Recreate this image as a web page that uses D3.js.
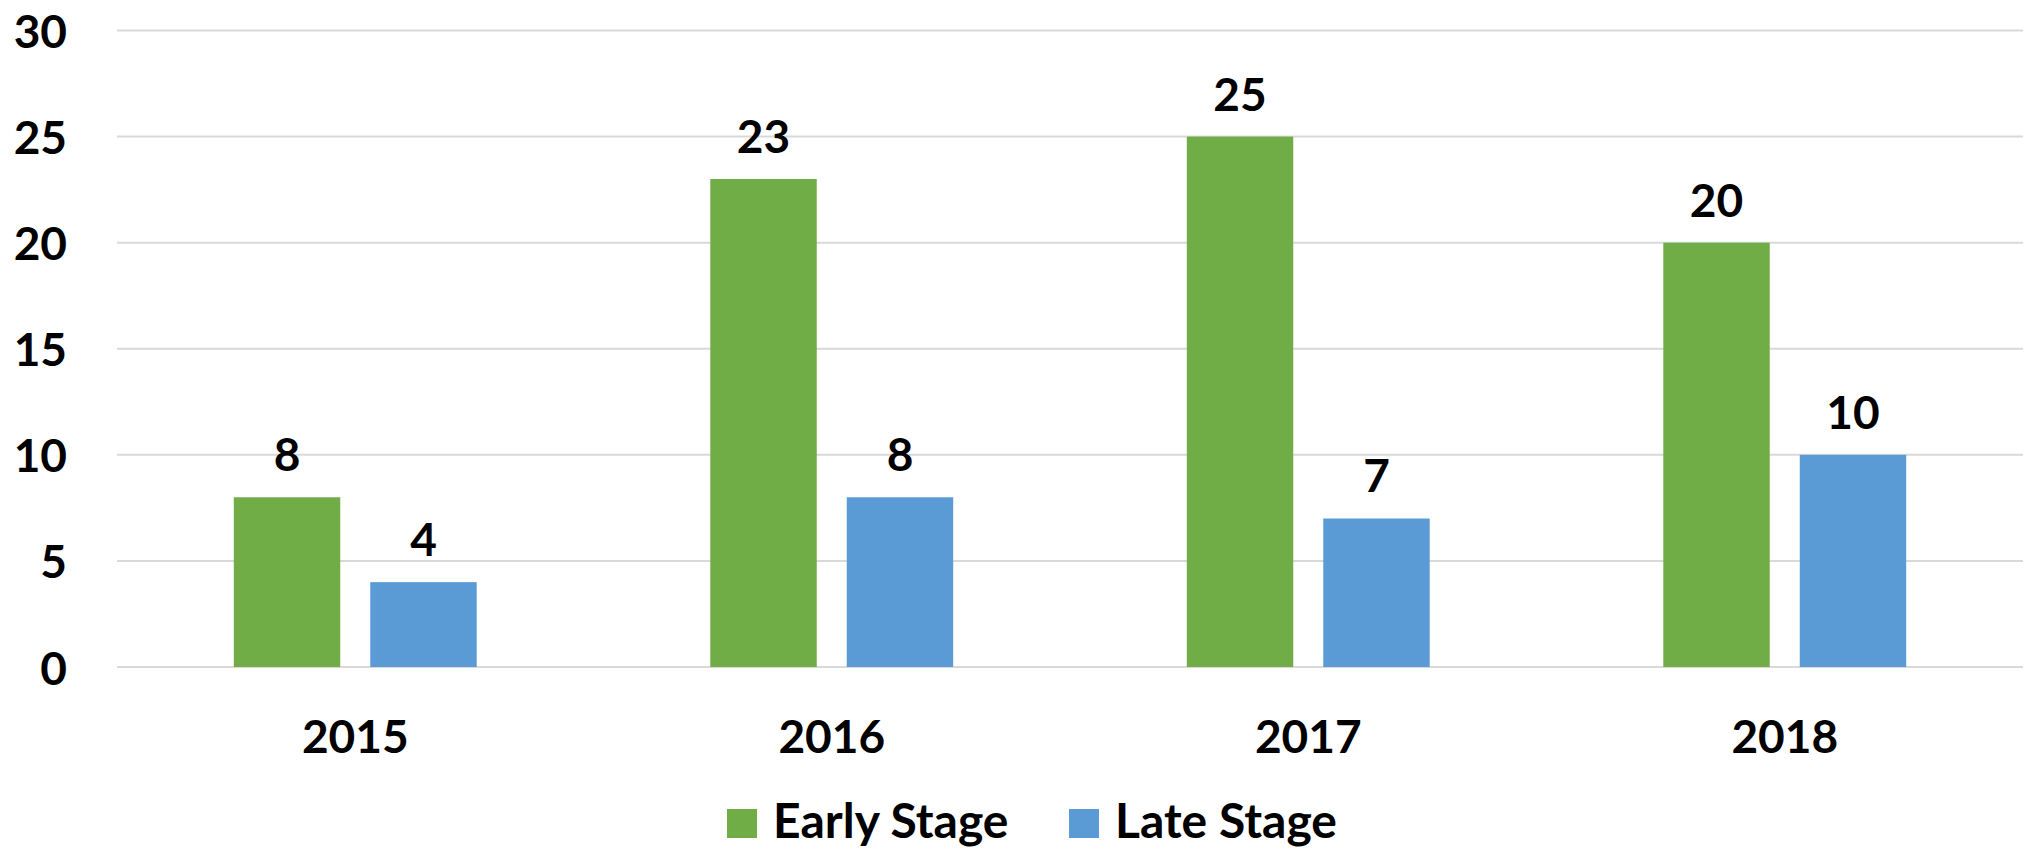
<!DOCTYPE html>
<html>
<head>
<meta charset="utf-8">
<script src="https://cdn.jsdelivr.net/npm/d3@7"></script>
<style>
  html, body { margin: 0; padding: 0; background: #fff; }
  svg text { font-family: Lato, "Open Sans", sans-serif; font-weight: bold; fill: #000; }
</style>
</head>
<body>
<svg id="chart" width="2024" height="850"></svg>
<script>
const categories = ["2015", "2016", "2017", "2018"];
const seriesNames = ["Early Stage", "Late Stage"];
const earlyStage = [8, 23, 25, 20];
const lateStage = [4, 8, 7, 10];
const yTicks = [0, 5, 10, 15, 20, 25, 30];
const colors = ["#70AD47", "#5B9BD5"];

const seriesValues = [earlyStage, lateStage];
const svg = d3.select("#chart");

const plotLeft = 117, plotRight = 2023, plotTop = 30.5, plotBottom = 667;

const y = d3.scaleLinear().domain([0, 30]).range([plotBottom, plotTop]);
const x0 = d3.scaleBand().domain(categories).range([plotLeft, plotRight]).paddingInner(0).paddingOuter(0);
const x1 = d3.scaleBand().domain(seriesNames).range([0, x0.bandwidth()]).paddingInner(0.22).paddingOuter(0.856);

// gridlines
svg.append("g").selectAll("line").data(yTicks).join("line")
  .attr("x1", plotLeft).attr("x2", plotRight)
  .attr("y1", d => y(d)).attr("y2", d => y(d))
  .attr("stroke", "#D9D9D9").attr("stroke-width", 2);

// y tick labels
svg.append("g").selectAll("text").data(yTicks).join("text")
  .attr("x", 67).attr("y", d => y(d))
  .attr("text-anchor", "end").attr("dominant-baseline", "central")
  .attr("font-size", 46)
  .text(d => d);

// bars
const groups = svg.append("g").selectAll("g").data(categories).join("g")
  .attr("transform", d => `translate(${x0(d)},0)`);

const cells = (d, i) => seriesNames.map((s, j) => ({s, j, v: seriesValues[j][i]}));

groups.selectAll("rect").data(cells).join("rect")
  .attr("x", d => x1(d.s)).attr("width", x1.bandwidth())
  .attr("y", d => y(d.v)).attr("height", d => y(0) - y(d.v))
  .attr("fill", d => colors[d.j]);

groups.selectAll("text").data(cells).join("text")
  .attr("x", d => x1(d.s) + x1.bandwidth() / 2)
  .attr("y", d => y(d.v) - 26)
  .attr("text-anchor", "middle")
  .attr("font-size", 46)
  .text(d => d.v);

// category labels
svg.append("g").selectAll("text").data(categories).join("text")
  .attr("x", d => x0(d) + x0.bandwidth() / 2)
  .attr("y", 753)
  .attr("text-anchor", "middle")
  .attr("font-size", 46)
  .text(d => d);

// legend
const legendX = [727, 1069];
const legend = svg.append("g").selectAll("g").data(seriesNames).join("g")
  .attr("transform", (d, i) => `translate(${legendX[i]},809)`);
legend.append("rect").attr("width", 30).attr("height", 29).attr("fill", (d, i) => colors[i]);
legend.append("text").attr("x", 46).attr("y", 29).attr("font-size", 48).text(d => d);
</script>
</body>
</html>
